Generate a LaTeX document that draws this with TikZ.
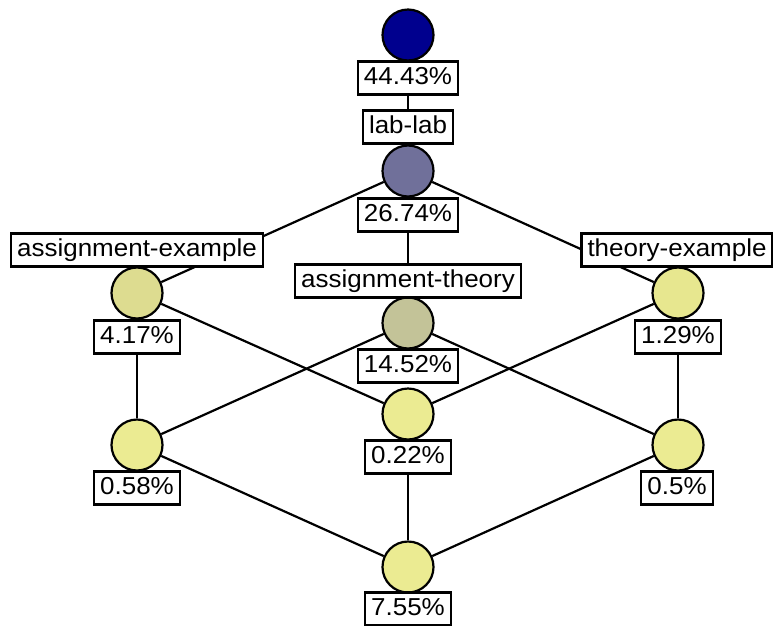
\documentclass[tikz,border=0pt]{standalone}
\usepackage{fontspec}
\setmainfont{Liberation Sans}[FakeStretch=1.06]
\definecolor{cTop}{HTML}{00008E}
\definecolor{cTwo}{HTML}{70709A}
\definecolor{cAE}{HTML}{DDDC90}
\definecolor{cAT}{HTML}{C3C398}
\definecolor{cTE}{HTML}{E7E78F}
\definecolor{cLow}{HTML}{EBEB92}
\tikzset{
  conc/.style={circle, draw=black, line width=2.2pt, minimum size=51pt, inner sep=0pt},
  lbl/.style={draw=black, fill=white, line width=2.1pt, inner xsep=6pt, inner ysep=0pt,
              minimum height=33pt, text height=17.5pt, text depth=4.5pt,
              font=\fontsize{24.5}{28}\selectfont},
  edge/.style={line width=2.2pt, black}
}
\begin{document}
\begin{tikzpicture}[x=1pt,y=-1pt]
\useasboundingbox (0,0) rectangle (773,625);
% concepts
\node[conc, fill=cTop] (c1) at (408,35) {};
\node[conc, fill=cTwo] (c2) at (408,171) {};
\node[conc, fill=cAE] (cl) at (137,293) {};
\node[conc, fill=cAT] (cm) at (408,323) {};
\node[conc, fill=cTE] (cr) at (678,293) {};
\node[conc, fill=cLow] (dl) at (137,445) {};
\node[conc, fill=cLow] (dm) at (408,414) {};
\node[conc, fill=cLow] (dr) at (678,445) {};
\node[conc, fill=cLow] (e) at (408,567) {};
% edges
\draw[edge] (c1) -- (c2);
\draw[edge] (c2) -- (cl);
\draw[edge] (c2) -- (cm);
\draw[edge] (c2) -- (cr);
\draw[edge] (cl) -- (dl);
\draw[edge] (cl) -- (dm);
\draw[edge] (cm) -- (dl);
\draw[edge] (cm) -- (dr);
\draw[edge] (cr) -- (dm);
\draw[edge] (cr) -- (dr);
\draw[edge] (dl) -- (e);
\draw[edge] (dm) -- (e);
\draw[edge] (dr) -- (e);
% labels
\node[lbl] (p1) at (408,78) {44.43\%};
\node[lbl] (a1) at (408,127) {lab-lab};
\node[lbl] (p2) at (408,215) {26.74\%};
\node[lbl] (a2) at (137,250) {assignment-example};
\node[lbl] (a3) at (677,250) {theory-example};
\node[lbl] (a4) at (408,281) {assignment-theory};
\node[lbl] (p3) at (137,337) {4.17\%};
\node[lbl] (p4) at (408,366) {14.52\%};
\node[lbl] (p5) at (678,337) {1.29\%};
\node[lbl] (p6) at (408,457) {0.22\%};
\node[lbl] (p7) at (137,488) {0.58\%};
\node[lbl] (p8) at (677,488) {0.5\%};
\node[lbl] (p9) at (408,609) {7.55\%};
\end{tikzpicture}
\end{document}
